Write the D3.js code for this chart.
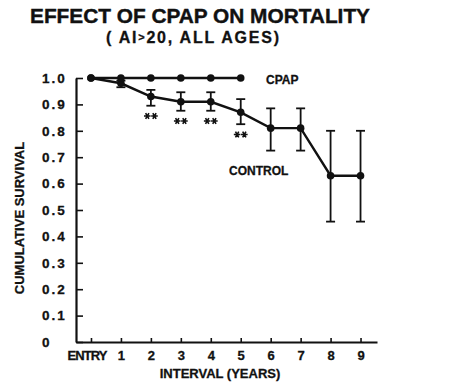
<!DOCTYPE html>
<html>
<head>
<meta charset="utf-8">
<script src="https://cdn.jsdelivr.net/npm/d3@7.9.0/dist/d3.min.js"></script>
<style>
  body { margin: 0; background: #fff; }
  svg text { font-family: "Liberation Sans", Arial, sans-serif; font-weight: bold; fill: #111; }
</style>
</head>
<body>
<svg width="452" height="387"></svg>
<script>
// interval labels (index 0 = entry)
const intervals = ["ENTRY", "1", "2", "3", "4", "5", "6", "7", "8", "9"];
const cpap = [1.0, 1.0, 1.0, 1.0, 1.0, 1.0];
const control = [1.0, 0.98, 0.93, 0.91, 0.91, 0.87, 0.81, 0.81, 0.63, 0.63];
const controlLow = [null, 0.965, 0.895, 0.876, 0.876, 0.825, 0.725, 0.725, 0.456, 0.456];
const controlHigh = [null, 0.99, 0.955, 0.946, 0.946, 0.92, 0.885, 0.885, 0.80, 0.80];
// significance markers: interval index and where the ** sits
const starIdx = [2, 3, 4, 5];
const starVal = [0.856, 0.837, 0.837, 0.786];
const yTicks = [0, 0.1, 0.2, 0.3, 0.4, 0.5, 0.6, 0.7, 0.8, 0.9, 1.0];

const svg = d3.select("svg");
const x = d3.scaleLinear().domain([-0.5, 9.55]).range([76, 377]);
const y = d3.scaleLinear().domain([0, 1]).range([342, 78]);

// title
svg.append("text").attr("x", 30).attr("y", 23)
  .attr("font-size", 20).attr("textLength", 340).attr("lengthAdjust", "spacingAndGlyphs")
  .attr("stroke", "#111").attr("stroke-width", 0.4)
  .text("EFFECT OF CPAP ON MORTALITY");
const sub = svg.append("text").attr("x", 106).attr("y", 43)
  .attr("font-size", 16).attr("textLength", 173).attr("lengthAdjust", "spacing")
  .attr("stroke", "#111").attr("stroke-width", 0.3);
sub.append("tspan").text("( AI");
sub.append("tspan").attr("font-size", 11).attr("dy", -2).text(">");
sub.append("tspan").attr("dy", 2).text("20,  ALL AGES)");

// y axis
const yAxis = svg.append("g").attr("transform", `translate(${x(-0.5)},0)`)
  .call(d3.axisLeft(y).tickValues(yTicks).tickSizeInner(-7).tickSizeOuter(0)
    .tickFormat(d => d === 0 ? "0" : d3.format(".1f")(d)));
yAxis.select(".domain").attr("stroke", "#111").attr("stroke-width", 2.2);
yAxis.selectAll(".tick line").attr("stroke", "#111").attr("stroke-width", 1.6);
yAxis.selectAll(".tick text").attr("x", -34).attr("text-anchor", "start")
  .attr("font-size", 13.5).attr("letter-spacing", "2px").attr("fill", "#111")
  .attr("stroke", "#111").attr("stroke-width", 0.3)
  .attr("font-family", null);

// x axis
const xAxis = svg.append("g").attr("transform", `translate(0,${y(0)})`)
  .call(d3.axisBottom(x).tickValues(d3.range(intervals.length)).tickSizeInner(-4).tickSizeOuter(0)
    .tickFormat((d, i) => intervals[i]));
xAxis.select(".domain").attr("stroke", "#111").attr("stroke-width", 2.2);
xAxis.selectAll(".tick line").attr("stroke", "#111").attr("stroke-width", 1.6);
xAxis.selectAll(".tick text").attr("y", 18).attr("dy", 0)
  .attr("font-size", 13).attr("fill", "#111").attr("font-family", null)
  .attr("stroke", "#111").attr("stroke-width", 0.3)
  .attr("dx", (d, i) => i === 0 ? -4 : 0)
  .attr("textLength", (d, i) => i === 0 ? 40 : null);

// axis titles
svg.append("text").attr("x", 220).attr("y", 378).attr("text-anchor", "middle")
  .attr("font-size", 13).attr("stroke", "#111").attr("stroke-width", 0.3).text("INTERVAL (YEARS)");
svg.append("text").attr("transform", "translate(24,218) rotate(-90)")
  .attr("text-anchor", "middle").attr("font-size", 13).attr("stroke", "#111").attr("stroke-width", 0.3)
  .text("CUMULATIVE SURVIVAL");

const line = d3.line().x((d, i) => x(i)).y(d => y(d));

// error bars
const bars = svg.append("g").attr("stroke", "#111").attr("stroke-width", 1.8);
control.forEach((v, i) => {
  if (controlLow[i] == null) return;
  bars.append("line").attr("x1", x(i)).attr("x2", x(i)).attr("y1", y(controlLow[i])).attr("y2", y(controlHigh[i]));
  [controlLow[i], controlHigh[i]].forEach(e => {
    bars.append("line").attr("x1", x(i) - 4.5).attr("x2", x(i) + 4.5).attr("y1", y(e)).attr("y2", y(e));
  });
});

svg.append("path").datum(control).attr("d", line)
  .attr("fill", "none").attr("stroke", "#111").attr("stroke-width", 2.4);
svg.append("path").datum(cpap).attr("d", line)
  .attr("fill", "none").attr("stroke", "#111").attr("stroke-width", 2.4);

svg.append("g").selectAll("circle").data(control).join("circle")
  .attr("cx", (d, i) => x(i)).attr("cy", d => y(d)).attr("r", 3.8).attr("fill", "#111");
svg.append("g").selectAll("circle").data(cpap).join("circle")
  .attr("cx", (d, i) => x(i)).attr("cy", d => y(d)).attr("r", 3.8).attr("fill", "#111");

// ** markers
const star = d3.symbol(d3.symbolAsterisk, 30);
starIdx.forEach((k, j) => {
  [-3.6, 3.6].forEach(off => {
    svg.append("path").attr("d", star())
      .attr("transform", `translate(${x(k) + off},${y(starVal[j])}) rotate(90)`)
      .attr("fill", "none").attr("stroke", "#111").attr("stroke-width", 1.6);
  });
});

// series labels
svg.append("text").attr("x", 266).attr("y", 83.5).attr("font-size", 12)
  .attr("stroke", "#111").attr("stroke-width", 0.3).text("CPAP");
svg.append("text").attr("x", 229).attr("y", 174.5).attr("font-size", 12)
  .attr("stroke", "#111").attr("stroke-width", 0.3).text("CONTROL");
</script>
</body>
</html>
